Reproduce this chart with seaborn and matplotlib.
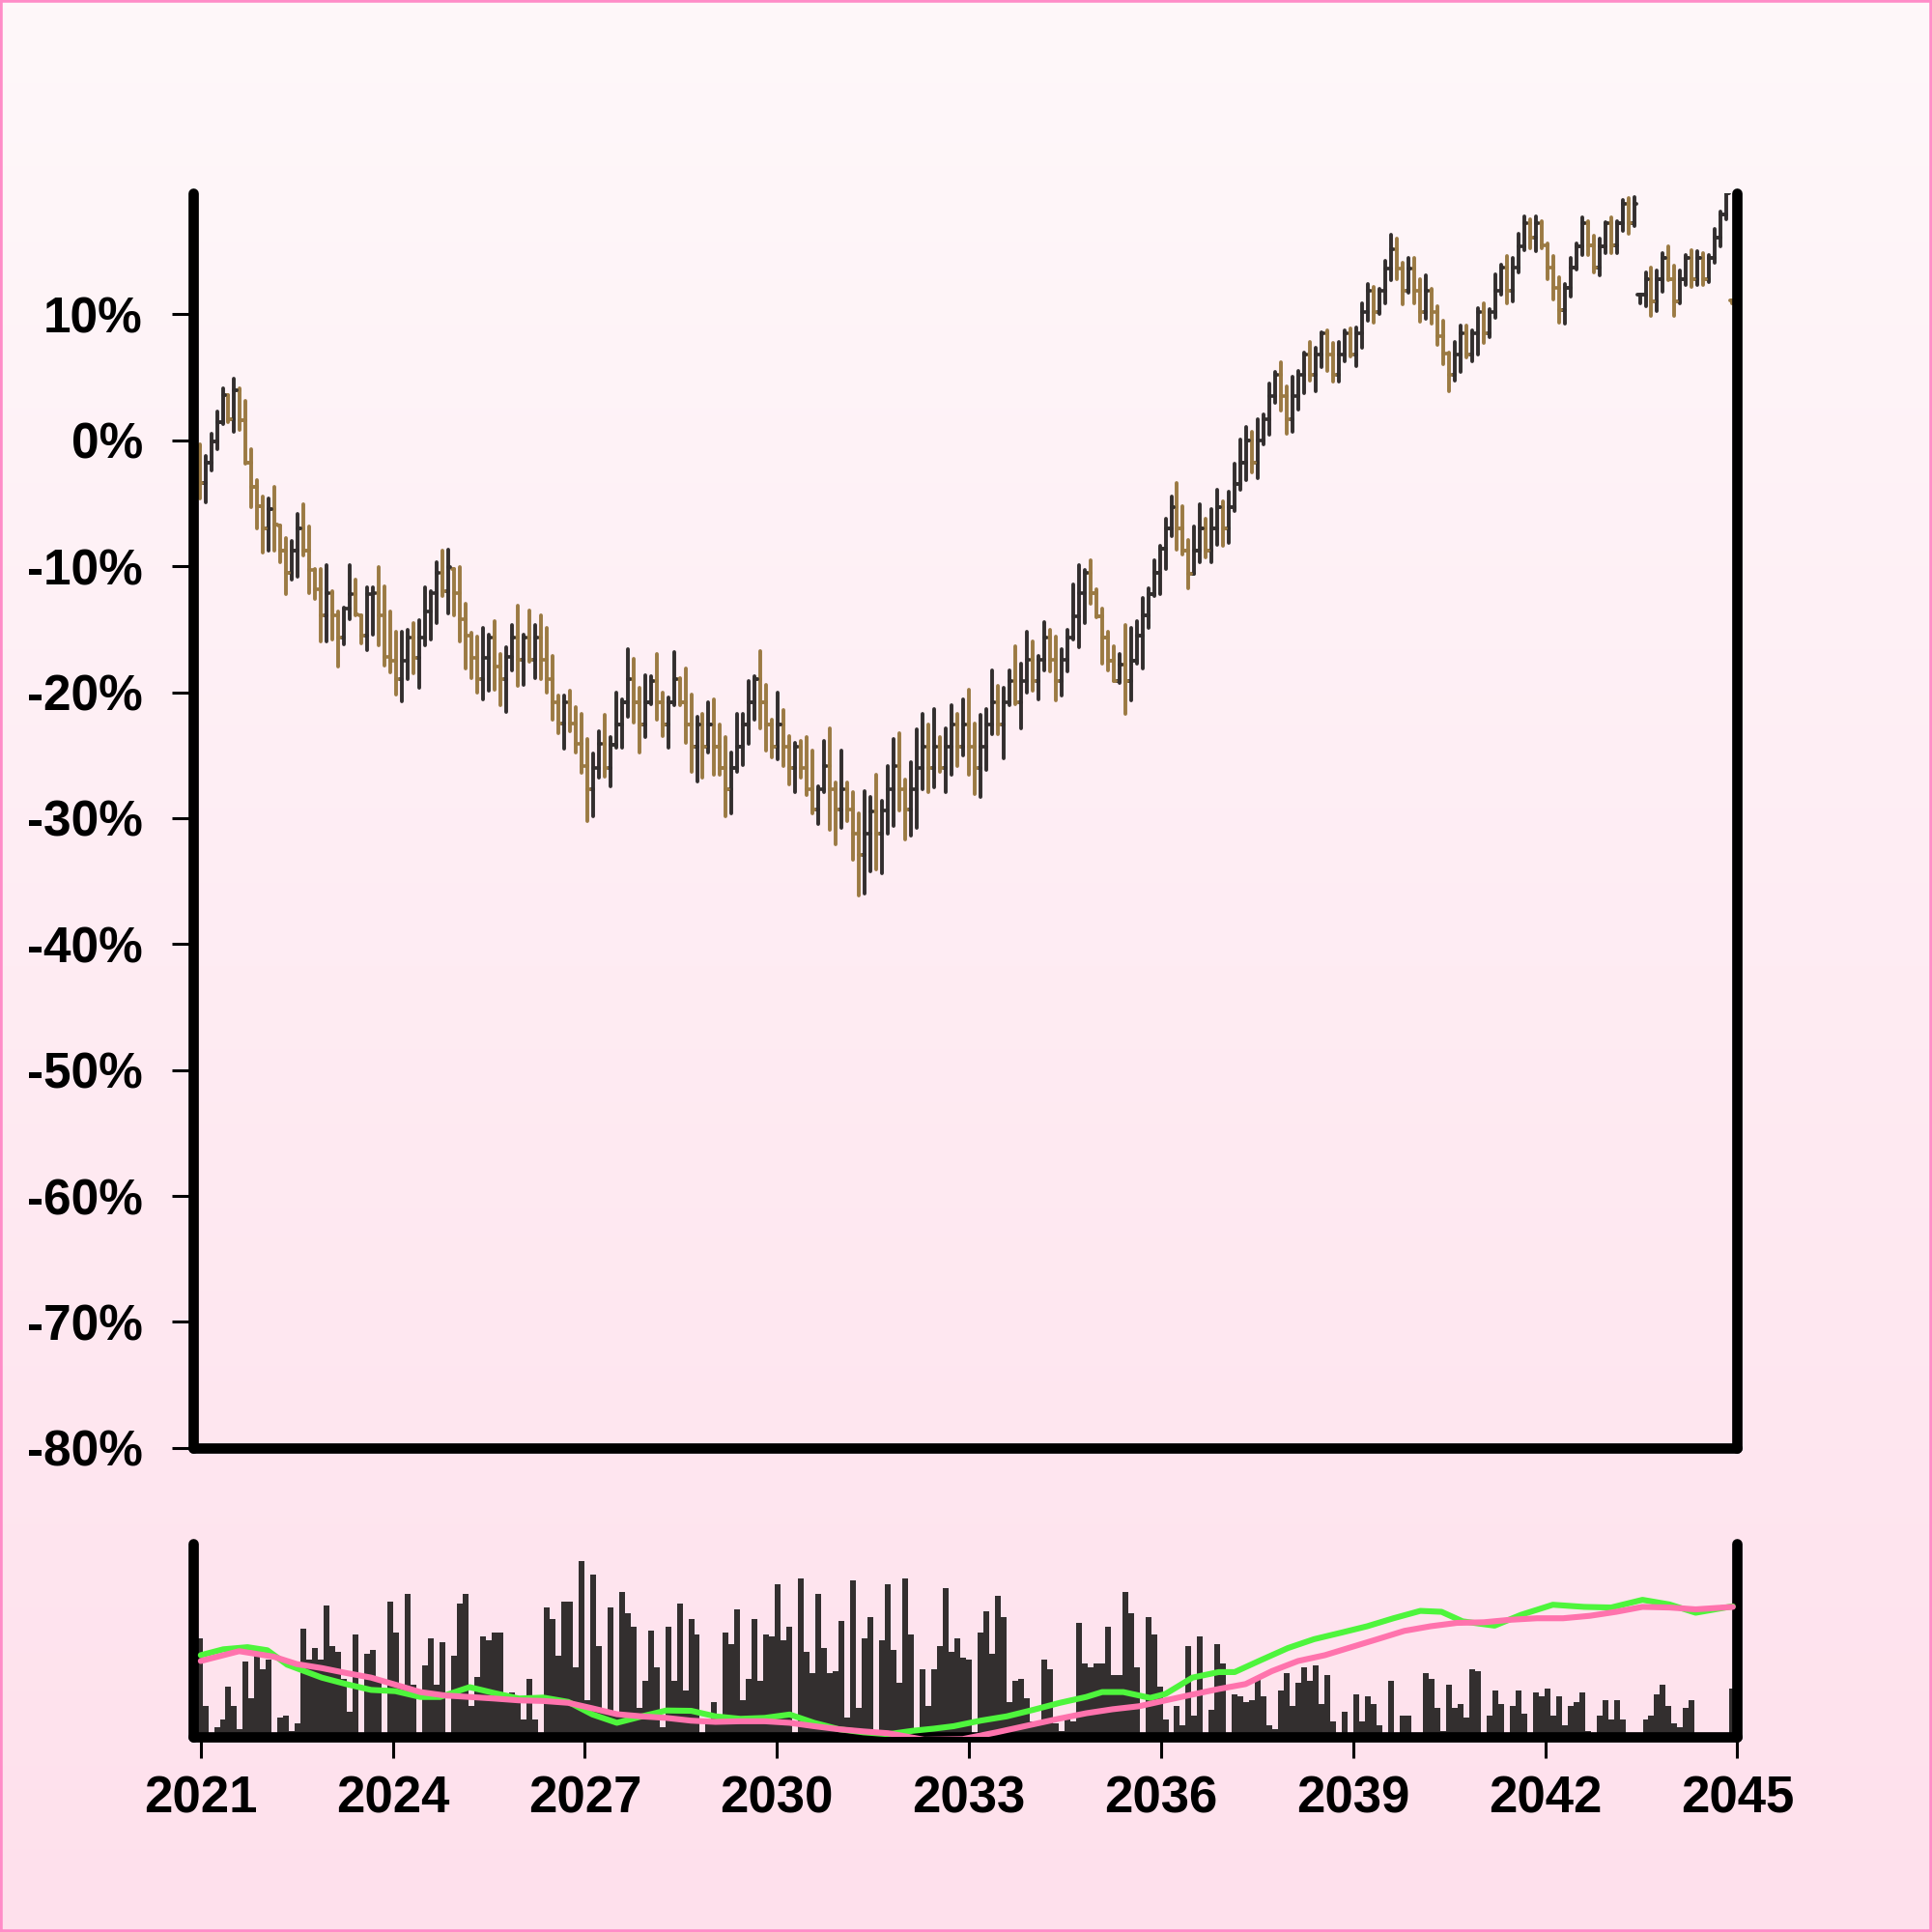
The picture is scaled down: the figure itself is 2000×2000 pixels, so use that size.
import numpy as np
import pandas as pd
import seaborn as sns
import matplotlib.pyplot as plt
import matplotlib.dates as mdates
from matplotlib.colors import LinearSegmentedColormap
from matplotlib.patches import Rectangle

# --- price bars, % change vs first bar ---
closes = [
    -3.4, -1.8, -0.1, 1.4, 3.6, 1.7, 4.0, 1.6, -1.8, -3.7,
    -5.2, -7.0, -5.5, -6.7, -8.8, -10.5, -8.8, -7.0, -8.8, -10.3,
    -11.8, -13.9, -12.1, -13.9, -15.7, -13.4, -12.2, -13.8, -15.5, -12.2,
    -12.1, -13.9, -17.2, -17.5, -19.0, -17.5, -15.7, -17.3, -15.7, -13.6,
    -12.1, -10.5, -12.0, -10.1, -12.1, -14.2, -15.5, -17.3, -19.0, -17.3,
    -15.7, -18.0, -19.0, -17.2,
    -15.7, -17.4, -15.7, -17.4, -15.7, -17.4, -19.0, -20.8, -22.5, -20.8,
    -22.5, -24.1, -25.9, -27.7, -26.0, -24.1, -26.0, -24.2, -22.6, -20.8,
    -19.0, -20.8, -22.6, -20.8, -19.1, -20.8, -22.6, -20.8, -19.0, -20.8,
    -22.6, -24.3, -22.6, -24.3, -22.6, -24.3, -26.0, -27.7, -26.0, -24.3,
    -22.6, -20.8, -19.0, -20.8, -22.6, -24.3, -22.6, -24.3, -26.0, -24.3,
    -26.0, -27.7, -29.3, -27.7,
    -25.9, -27.7, -29.3, -27.7, -29.3, -31.2, -32.9, -31.2, -29.5, -31.2,
    -29.4, -27.7, -25.9, -27.7, -29.3, -27.7, -26.0, -24.3, -26.0, -24.3,
    -26.0, -24.3, -22.6, -24.3, -22.6, -24.3, -26.0, -24.3, -22.6, -20.8,
    -22.6, -20.8, -19.1, -20.8, -19.1, -17.4, -19.1, -17.4, -15.7, -17.4,
    -19.1, -17.4, -15.7, -14.0, -12.1, -10.5, -12.1, -14.0, -15.7, -17.5,
    -19.1, -17.8, -19.1,
    -17.5, -15.5, -13.9, -12.2, -10.5, -8.6, -7.0, -5.3, -7.0, -8.8,
    -10.6, -8.8, -7.0, -8.8, -7.0, -5.3, -7.0, -5.3, -3.5, -1.8,
    0.0, -1.8, 0.0, 1.7, 3.5, 5.2, 3.5, 1.7, 3.5, 5.2,
    6.8, 5.2, 6.8, 8.5, 6.8, 5.2, 6.8, 8.5, 6.8, 8.5,
    10.2, 11.9, 10.2, 11.9, 13.6, 15.2, 13.6, 11.9, 13.6, 11.9,
    10.2, 11.9, 10.2, 8.3,
    6.9, 5.2, 6.8, 8.5, 6.8, 8.5, 10.2, 8.5, 10.2, 11.9,
    13.7, 11.9, 13.7, 15.4, 17.2, 16.1, 17.2, 15.5, 13.7, 12.1,
    10.3, 12.1, 13.7, 15.4, 17.2, 15.5, 13.7, 15.4, 17.2, 15.5,
    17.2, 18.8, 17.2, 18.8, 11.53, 12.8, 11.0, 12.8, 14.5, 12.8,
    11.0, 12.8, 14.5, 12.8, 14.5, 12.8, 14.5, 16.1, 17.9, 19.6,
    11.0,
]
highs = [
    -0.35, -1.25, 0.54, 2.3, 4.1, 3.6, 4.9, 4.1, 3.1, -0.74,
    -3.16, -4.45, -4.6, -3.7, -6.74, -7.8, -8.0, -5.85, -5.1, -6.87,
    -10.2, -10.2, -9.94, -11.98, -13.6, -13.26, -9.94, -11.1, -13.9, -11.7,
    -11.7, -10.07, -11.6, -13.6, -15.18, -15.18, -15.05, -14.54, -14.3, -11.7,
    -11.98, -9.68, -8.79, -8.66, -10.2, -10.07, -13.0, -15.3, -15.56, -14.9,
    -15.4, -14.4, -16.97, -16.46,
    -14.67, -13.14, -15.44, -13.52, -14.67, -13.9, -14.92, -17.1, -20.29, -20.29,
    -19.9, -21.2, -21.7, -23.74, -24.9, -23.1, -21.83, -23.6, -20.04, -20.55,
    -16.59, -17.35, -19.65, -18.63, -18.76, -16.97, -20.04, -20.42, -16.84, -18.9,
    -18.12, -20.16, -21.95, -21.7, -20.8, -20.55, -22.6, -23.6, -24.76, -21.7,
    -21.7, -19.14, -18.76, -16.71, -19.4, -22.2, -20.04, -21.44, -23.5, -24.0,
    -23.87, -23.6, -24.64, -27.45,
    -23.87, -22.85, -27.2, -24.64, -27.2, -27.96, -29.62, -27.83, -28.34, -26.56,
    -28.6, -25.9, -23.74, -23.23, -26.94, -25.53, -22.97, -21.7, -22.6, -21.31,
    -23.6, -22.85, -21.06, -21.7, -20.55, -19.78, -22.46, -21.83, -21.31, -18.25,
    -19.52, -19.65, -18.25, -16.33, -17.74, -15.18, -15.94, -17.1, -14.41, -15.05,
    -15.56, -16.59, -15.05, -11.47, -9.94, -10.32, -9.55, -11.86, -13.39, -15.18,
    -16.33, -16.97, -14.67,
    -14.93, -14.4, -12.5, -11.73, -9.56, -8.41, -6.24, -4.45, -3.42, -5.21,
    -7.9, -6.88, -5.09, -6.24, -5.47, -3.93, -4.83, -4.06, -1.89, 0.03,
    1.06, 0.68, 1.7, 2.08, 4.51, 5.4, 6.17, 4.25, 5.02, 5.5,
    6.94, 7.83, 7.32, 8.6, 8.72, 7.7, 7.83, 8.72, 8.85, 8.98,
    10.89, 12.43, 12.17, 12.04, 14.22, 16.3, 16.0, 14.1, 14.5, 14.5,
    12.8, 13.07, 12.04, 10.64,
    9.49, 6.94, 7.83, 9.1, 9.1, 8.72, 10.51, 10.89, 10.38, 13.2,
    13.96, 14.6, 14.47, 16.39, 17.8, 17.54, 17.8, 17.42, 15.62, 14.6,
    12.94, 12.43, 14.47, 15.62, 17.67, 17.42, 16.26, 16.0, 17.29, 17.67,
    17.42, 19.07, 19.2, 19.33, 11.53, 13.33, 13.71, 13.45, 14.86, 15.37,
    13.84, 13.45, 14.73, 15.11, 14.98, 14.86, 14.73, 16.78, 18.18, 19.7,
    11.1,
]
lows = [
    -4.6, -4.96, -2.4, -0.74, 1.3, 1.4, 0.67, 0.8, -1.89, -5.34,
    -7.0, -8.9, -8.79, -8.79, -9.68, -12.24, -11.1, -10.8, -9.17, -12.1,
    -12.6, -15.95, -15.95, -15.8, -18.0, -16.2, -14.2, -13.9, -16.1, -16.7,
    -15.4, -16.3, -17.86, -18.4, -20.17, -20.7, -19.0, -18.5, -19.65, -16.3,
    -15.8, -14.54, -12.4, -13.77, -13.9, -15.95, -18.1, -18.9, -20.04, -20.55,
    -19.9, -19.8, -21.06, -21.57,
    -18.25, -19.52, -19.4, -17.6, -18.9, -19.0, -20.04, -22.2, -23.23, -24.5,
    -23.1, -24.76, -26.4, -30.26, -29.88, -26.8, -26.68, -27.45, -24.4, -24.4,
    -21.95, -22.4, -24.76, -23.6, -20.93, -22.2, -23.5, -24.4, -21.06, -21.06,
    -24.0, -26.3, -27.06, -26.8, -24.76, -26.56, -26.56, -29.88, -29.6, -26.3,
    -25.8, -24.1, -22.2, -22.85, -24.64, -25.15, -25.3, -25.9, -27.3, -27.96,
    -26.8, -28.2, -29.6, -30.5,
    -27.96, -30.9, -32.05, -30.77, -30.26, -33.33, -36.14, -36.0, -34.2, -34.1,
    -34.35, -31.2, -30.64, -29.36, -31.66, -31.41, -30.77, -27.7, -27.96, -27.58,
    -26.3, -27.96, -26.56, -25.9, -25.02, -26.56, -28.09, -28.34, -26.17, -23.36,
    -23.36, -25.28, -21.06, -20.93, -22.85, -20.04, -19.9, -20.55, -18.25, -18.37,
    -20.67, -20.29, -18.37, -15.82, -16.46, -14.54, -13.0, -14.03, -17.74, -18.25,
    -19.14, -19.27, -21.7,
    -20.68, -17.74, -18.12, -14.93, -12.37, -12.24, -10.2, -7.64, -8.66, -9.05,
    -11.73, -10.58, -9.69, -9.3, -9.69, -8.28, -8.41, -8.15, -5.6, -3.93,
    -3.17, -2.53, -3.04, -0.36, 0.42, 2.98, 2.34, 0.55, 0.68, 2.47,
    3.74, 4.76, 3.87, 5.79, 5.53, 4.64, 4.64, 6.3, 6.68, 5.91,
    7.32, 9.49, 9.36, 10.0, 10.89, 12.7, 12.8, 10.8, 11.7, 10.9,
    9.4, 9.62, 9.23, 7.57,
    6.04, 3.87, 4.77, 5.4, 6.55, 6.3, 6.81, 7.7, 8.21, 9.74,
    11.53, 10.89, 11.02, 13.33, 15.11, 15.24, 14.98, 15.24, 12.81, 11.15,
    9.36, 9.23, 11.4, 13.58, 14.73, 14.73, 13.33, 13.07, 14.86, 14.86,
    14.86, 16.65, 16.39, 17.03, 10.89, 10.64, 9.87, 10.26, 11.79, 12.69,
    9.87, 10.89, 12.3, 12.17, 12.3, 12.3, 12.56, 14.09, 15.37, 17.54,
    10.9,
]
volumes = [
    51, 16, 2, 5, 9, 26, 16, 4, 39, 20,
    47, 35, 40, 1, 10, 11, 3, 7, 56, 40,
    46, 40, 68, 47, 44, 30, 13, 53, 1, 43,
    45, 29, 1, 70, 54, 27, 74, 27, 1, 37,
    51, 27, 49, 1, 42, 69, 74, 16, 31, 52,
    50, 54, 54, 19, 23, 21, 9, 30, 9, 1,
    67, 61, 42, 70, 70, 36, 91, 19, 84, 47,
    13, 67, 13, 75, 64, 57, 15, 29, 55, 36,
    5, 57, 29, 69, 24, 61, 53, 1, 7, 18,
    7, 54, 48, 66, 19, 30, 61, 29, 53, 52,
    79, 50, 57, 1, 82, 44, 33, 74, 46, 33,
    34, 60, 10, 81, 15, 51, 62, 1, 50, 79,
    45, 28, 82, 53, 1, 35,
    16, 35, 47, 77, 44, 51, 41, 40, 1, 54,
    65, 43, 73, 62, 18, 29, 30, 20, 8, 7,
    40, 35, 7, 3, 9, 8, 59, 38, 36, 38,
    38, 57, 32, 32, 75, 64, 36, 1, 62, 53,
    26, 9, 1, 16, 6, 47, 11, 52, 1, 14,
    48, 38, 1, 22, 21, 18, 19, 30, 21, 6,
    4, 24, 33, 16, 28, 36, 29, 37, 17, 32,
    8, 1, 13, 1, 22, 8, 21, 17, 6, 1,
    29, 2, 11, 11, 1, 1, 33, 30, 15, 3,
    27, 15, 17, 10, 35, 34, 1, 11, 24, 17,
    1, 16, 24, 12, 1, 23, 21, 25, 11, 21,
    6, 16, 18, 23, 3, 1, 11, 19, 9, 19,
    9, 1, 1, 1, 9, 11, 22, 27, 16, 7,
    5, 15, 19, 1, 1, 1, 1, 1, 1, 25,
]

# moving-average lines, decimal year -> %
fast_years = [2021.0, 2021.35, 2021.73, 2022.04, 2022.35, 2022.89, 2023.27, 2023.66,
              2024.04, 2024.43, 2024.74, 2025.2, 2025.58, 2025.97, 2026.35, 2026.74,
              2027.12, 2027.5, 2027.89, 2028.27, 2028.66, 2029.04, 2029.43, 2029.81,
              2030.2, 2030.58, 2030.97, 2031.35, 2031.74, 2032.12, 2032.45, 2032.76,
              2033.18, 2033.59, 2034.0, 2034.42, 2034.83, 2035.08, 2035.41, 2035.83,
              2036.07, 2036.49, 2036.9, 2037.15, 2037.56, 2037.98, 2038.39, 2038.81,
              2039.22, 2039.63, 2040.05, 2040.38, 2040.71, 2041.21, 2041.62, 2042.12,
              2042.61, 2043.03, 2043.52, 2043.94, 2044.35, 2044.93]
fast_ma = [-1.3, 0.6, 1.3, 0.3, -4.4, -8.6, -10.7, -12.6,
           -13.0, -14.9, -14.9, -11.7, -13.6, -15.4, -15.1, -16.5,
           -20.6, -23.3, -21.2, -19.3, -19.4, -21.2, -22.0, -21.7,
           -20.6, -23.3, -25.4, -26.4, -27.0, -25.9, -25.2, -24.4,
           -22.6, -21.2, -19.1, -16.8, -14.9, -13.3, -13.3, -15.2,
           -13.9, -8.6, -6.8, -6.8, -2.9, 1.0, 3.9, 6.0,
           8.1, 10.7, 13.1, 12.8, 9.7, 8.3, 11.8, 15.1,
           14.4, 14.2, 16.7, 15.2, 12.5, 14.6]
slow_years = [2021.0, 2021.6, 2022.14, 2022.5, 2022.89, 2023.27, 2023.66, 2024.04,
              2024.43, 2024.81, 2025.2, 2025.58, 2025.97, 2026.35, 2026.74, 2027.12,
              2027.5, 2027.89, 2028.27, 2028.66, 2029.04, 2029.43, 2029.81, 2030.2,
              2030.58, 2030.97, 2031.35, 2031.74, 2032.3, 2032.9, 2033.43, 2034.0,
              2034.42, 2034.83, 2035.24, 2035.66, 2036.07, 2036.49, 2036.9, 2037.32,
              2037.73, 2038.14, 2038.56, 2038.97, 2039.38, 2039.8, 2040.21, 2040.62,
              2041.04, 2041.45, 2041.87, 2042.28, 2042.7, 2043.11, 2043.52, 2043.94,
              2044.35, 2044.93]
slow_ma = [-3.2, 0.0, -1.8, -4.2, -5.5, -7.1, -8.6, -10.9,
           -13.3, -14.4, -14.9, -15.4, -16.0, -16.2, -16.8, -18.6,
           -20.5, -21.2, -21.7, -22.6, -23.0, -22.8, -22.8, -23.3,
           -24.4, -25.4, -26.1, -26.7, -28.8, -28.6, -26.4, -23.8,
           -21.9, -20.2, -18.9, -17.9, -16.0, -14.1, -12.3, -10.7,
           -6.5, -3.2, -1.3, 1.3, 3.9, 6.6, 8.1, 9.2,
           9.4, 10.2, 10.7, 10.7, 11.5, 12.8, 14.4, 14.2,
           13.6, 14.4]

y_ticks = [-80, -70, -60, -50, -40, -30, -20, -10, 0, 10]
x_tick_years = [2021, 2024, 2027, 2030, 2033, 2036, 2039, 2042, 2045]

UP = '#322e2e'
DOWN = '#9b7a43'
VOL = '#332f2f'
FAST = '#4ef53c'
SLOW = '#ff73ad'

sns.set_theme(style='white')
plt.rcParams['font.family'] = ['Liberation Sans', 'DejaVu Sans']
plt.rcParams['font.weight'] = 'bold'
plt.rcParams['axes.unicode_minus'] = False

df = pd.DataFrame({'Close': closes, 'High': highs, 'Low': lows, 'Volume': volumes})
df['Date'] = pd.date_range('2020-12-25', periods=len(df), freq='33D')
prev_close = df['Close'].shift(1).fillna(-0.5)
df['Open'] = np.clip(prev_close, df['Low'], df['High'])
x = mdates.date2num(df['Date'])


def years_to_num(vals):
    d = pd.Timestamp('2021-01-01') + pd.to_timedelta((np.asarray(vals) - 2021) * 365.25, unit='D')
    return mdates.date2num(d)


x_left = years_to_num([2020.885])[0]
x_right = years_to_num([2045.0])[0]

fig = plt.figure(figsize=(10, 10), dpi=200)

# background gradient + thin pink frame
bg = fig.add_axes([0, 0, 1, 1], zorder=-10)
grad = np.linspace(0, 1, 256)[:, None]
bg.imshow(grad, aspect='auto', extent=[0, 1, 0, 1],
          cmap=LinearSegmentedColormap.from_list('bg', ['#fef8fa', '#fee0ec']))
bg.axis('off')
fig.add_artist(Rectangle((0, 0), 1, 1, transform=fig.transFigure, fill=False,
                         edgecolor='#ff8cc8', linewidth=2))

ax = fig.add_axes([0.1001, 0.2506, 0.7991, 0.6493])
axv = fig.add_axes([0.1001, 0.1008, 0.7991, 0.1001])

# --- OHLC bars ---
colors = np.where(df['Close'] >= df['Open'], UP, DOWN)
half = 12
for coll in (ax.vlines(x, df['Low'], df['High'], colors=colors, linewidth=1.4),
             ax.hlines(df['Open'], x - half, x, colors=colors, linewidth=1.4),
             ax.hlines(df['Close'], x, x + half, colors=colors, linewidth=1.4)):
    coll.set_capstyle('round')

ax.set_xlim(x_left, x_right)
ax.set_ylim(-80, 19.6)
ax.set_yticks(y_ticks)
ax.set_yticklabels([f'{t}%' for t in y_ticks])
ax.tick_params(axis='y', left=True, length=7.8, width=1.1, pad=11, labelsize=18.5, colors='black')
ax.tick_params(axis='x', bottom=False, labelbottom=False)

# --- volume + moving averages ---
axv.bar(x, df['Volume'], width=33, color=VOL, linewidth=0)
axv.set_xlim(x_left, x_right)
axv.set_ylim(0, 100)
axv.set_yticks([])
axv.set_xticks(years_to_num(x_tick_years))
axv.set_xticklabels([str(y) for y in x_tick_years])
axv.tick_params(axis='x', bottom=True, length=8, width=1.1, pad=6, labelsize=19, colors='black')

tw = axv.twinx()
sns.lineplot(x=years_to_num(fast_years), y=fast_ma, ax=tw, color=FAST, linewidth=2.2)
sns.lineplot(x=years_to_num(slow_years), y=slow_ma, ax=tw, color=SLOW, linewidth=2.2)
tw.set_ylim(-28, 34.9)
tw.set_xlim(x_left, x_right)
tw.set_yticks([])
tw.set_xlabel('')
tw.set_ylabel('')
for sp in tw.spines.values():
    sp.set_visible(False)

for a in (ax, axv):
    a.patch.set_alpha(0)
    a.grid(False)
    a.spines['top'].set_visible(False)
    for side in ('left', 'right', 'bottom'):
        a.spines[side].set_visible(True)
        a.spines[side].set_linewidth(3.85)
        a.spines[side].set_color('black')
        a.spines[side].set_capstyle('round')

fig.savefig('out.png', dpi=200)
